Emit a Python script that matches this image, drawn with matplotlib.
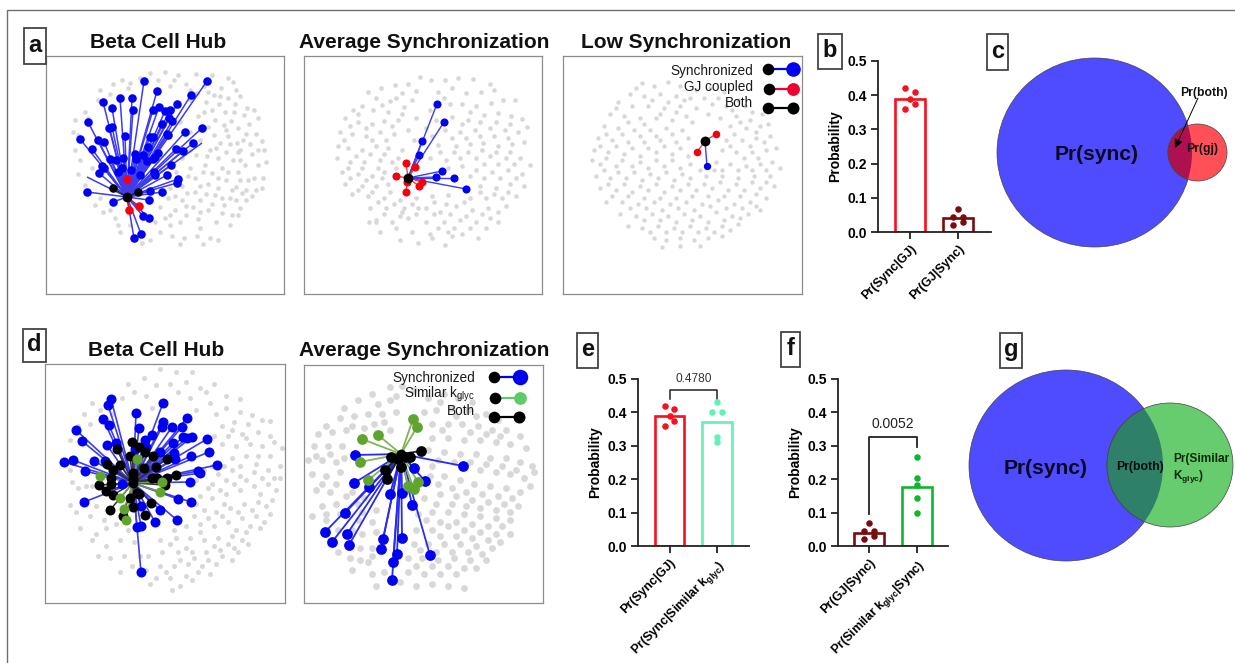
import matplotlib
matplotlib.use("Agg")
import matplotlib.pyplot as plt
from matplotlib.patches import Ellipse, Rectangle
from matplotlib.transforms import ScaledTranslation

plt.rcParams['font.family'] = ['Liberation Sans', 'DejaVu Sans']
plt.rcParams['mathtext.fontset'] = 'custom'
plt.rcParams['mathtext.rm'] = 'Liberation Sans'
plt.rcParams['mathtext.bf'] = 'Liberation Sans:bold'

W, H = 1235, 663
BLUE, RED, BLACK, GREEN = '#0000f5', '#f5000f', '#000000', '#5fa52d'

# ---------- network data (coordinates in reference pixels) ----------
# Background cells are hand-estimated samples of each grey cloud.
grey_a = [(150,73),(165,72),(178,75),(196,74),(212,75),(228,78),(233,82),(140,78),(122,80),(113,84),
 (186,84),(204,86),(221,88),(236,90),(128,88),(170,86),(214,95),(197,93),(228,98),(240,96),(110,94),(100,90),
 (206,102),(219,104),(235,104),(247,108),(254,110),(190,100),(225,112),(212,110),(244,115),(85,112),(98,100),
 (198,116),(215,120),(231,121),(249,124),(258,118),(238,128),(226,130),(208,127),(180,122),(75,120),(88,118),
 (214,135),(228,136),(246,134),(256,134),(262,141),(237,143),(220,143),(200,140),(190,132),(78,135),(73,132),
 (210,150),(226,152),(240,150),(252,154),(264,150),(196,155),(182,158),(233,160),(218,158),(75,150),
 (205,165),(190,168),(222,168),(245,165),(258,165),(266,162),(238,172),(80,160),(78,174),(212,173),
 (195,178),(182,186),(208,184),(226,180),(248,180),(263,178),(256,190),(236,187),(170,188),(85,185),(92,168),
 (195,192),(215,195),(230,198),(246,200),(252,196),(168,198),(182,200),(95,205),(100,198),(262,188),
 (160,207),(175,210),(193,207),(208,210),(224,205),(240,208),(110,210),(103,212),(238,215),
 (165,218),(180,222),(198,219),(216,222),(230,225),(115,218),(118,225),(200,228),(222,213),
 (160,232),(172,236),(184,238),(197,236),(210,238),(218,240),(150,240),(180,244),(203,244),(120,232),(130,225),(142,243),
 (204,112),(190,150),(176,172),(200,200),(186,215),(232,190),(243,140),(218,178),(170,225),(155,222),(240,160),
 (207,156),(216,148),(230,144),(203,172),(228,172),(200,186),(218,188),(242,193),(187,193),(175,196),(188,176),
 (206,194),(222,198),(236,200),(212,204),(200,212),(186,206),(170,215),(232,215),(246,190),(254,178),(240,180),
 (258,150),(250,144),(238,152),(224,125),(234,112),(220,96),(208,92),(190,90),(174,80),(158,80),(130,83)]

grey_b = [(420,77),(431,80),(445,80),(458,78),(473,79),(490,84),(395,85),(408,84),(381,88),(368,92),
 (402,93),(416,91),(438,92),(452,88),(466,93),(481,92),(494,90),(376,98),(390,101),(353,110),(362,106),
 (373,110),(388,112),(404,107),(430,110),(450,104),(462,104),(476,106),(491,103),(503,100),(515,100),(345,118),
 (358,122),(372,124),(384,121),(398,120),(416,118),(452,117),(468,120),(484,115),(498,113),(511,116),(522,119),
 (340,132),(352,134),(366,136),(380,132),(394,134),(408,130),(426,128),(445,130),(460,132),(475,130),(490,128),(505,130),(518,132),(527,127),
 (338,146),(348,148),(362,150),(376,146),(388,148),(402,150),(438,145),(456,146),(470,144),(483,143),(498,146),(512,144),(524,142),
 (337,158),(350,162),(364,162),(380,160),(392,162),(430,158),(446,160),(460,158),(476,158),(490,156),(506,158),(520,158),(530,165),
 (342,172),(358,174),(372,176),(384,172),(476,170),(492,172),(508,170),(522,174),(345,184),(362,186),(376,186),(388,184),
 (480,186),(496,188),(510,184),(524,186),(352,194),(368,196),(384,198),(400,200),(416,198),(432,196),(448,195),(470,198),(486,198),(502,198),(516,196),
 (370,208),(386,208),(402,212),(418,208),(434,202),(440,212),(456,206),(472,210),(488,208),(506,206),
 (376,220),(392,222),(408,218),(426,222),(444,222),(460,220),(476,222),(490,218),(380,232),(396,228),(412,232),(430,234),
 (448,232),(462,234),(486,228),(498,222),(369,222),(376,222),(400,240),(418,243),(432,238),(452,236),(478,238),(445,245),
 (382,105),(396,98),(412,100),(444,98),(470,112),(358,114),(350,126),(366,128),(392,126),(402,114),(436,120),(462,124),(480,122),(496,122),(510,124),
 (344,140),(372,140),(386,140),(414,140),(432,136),(452,138),(466,138),(480,136),(494,136),(508,138),(356,156),(370,154),(384,154),(398,158),
 (440,152),(454,152),(468,152),(482,150),(496,152),(510,152),(348,168),(362,168),(378,168),(396,168),(448,168),(462,166),(484,164),(498,164),(514,164),
 (350,178),(366,180),(382,178),(470,176),(484,178),(500,178),(516,178),(358,190),(372,192),(390,192),(404,208),(426,208),(446,204),(464,202),(480,192),(494,194),(508,192),
 (378,202),(394,204),(412,204),(450,214),(466,216),(482,214),(498,212),(384,214),(400,216),(416,214),(434,214),(438,228),(454,228),(470,228)]

grey_c = [(642,83),(654,86),(668,82),(680,86),(696,90),(710,88),(724,92),(630,94),(644,96),(660,94),(676,96),(690,98),(738,100),
 (618,102),(632,106),(648,106),(664,108),(680,106),(696,108),(712,104),(726,106),(745,106),(752,112),
 (610,114),(624,116),(640,118),(656,118),(672,120),(686,116),(720,118),(736,116),(750,120),(762,114),
 (604,126),(618,128),(634,130),(650,130),(666,128),(682,130),(730,126),(746,128),(760,126),(768,124),
 (598,138),(612,140),(628,142),(644,142),(660,140),(676,142),(726,140),(742,140),(756,138),(770,136),
 (594,150),(608,152),(624,154),(640,156),(656,152),(672,154),(688,156),(722,150),(736,152),(752,152),(766,150),(776,148),
 (592,160),(600,164),(616,166),(632,166),(648,168),(664,166),(680,168),(716,162),(730,164),(746,166),(760,164),(772,162),(780,168),
 (596,176),(610,178),(626,178),(642,180),(658,178),(674,180),(690,178),(706,176),(722,176),(738,178),(754,176),(770,176),
 (600,188),(616,190),(632,192),(648,190),(664,192),(680,190),(696,190),(712,188),(728,190),(744,190),(760,188),(774,186),
 (606,202),(622,202),(638,204),(654,202),(670,204),(686,202),(702,204),(718,200),(734,204),(750,202),(766,198),
 (620,214),(636,216),(652,214),(668,216),(684,214),(700,216),(716,212),(732,216),(748,214),(760,210),
 (628,226),(642,228),(658,226),(674,228),(690,226),(706,228),(722,226),(738,224),
 (654,238),(666,240),(680,238),(694,240),(708,238),(722,236),(662,247),(680,246),(700,246),
 (636,88),(652,100),(668,102),(684,100),(704,98),(718,98),(732,110),(616,108),(628,122),(644,124),(660,114),(676,112),(692,122),(708,114),(740,122),(756,132),
 (606,134),(622,134),(640,136),(656,136),(672,134),(688,138),(716,132),(734,134),(750,146),(764,142),(600,146),(616,146),(632,148),(648,148),(664,146),(680,148),(730,146),(744,158),(758,158),
 (606,158),(622,160),(640,162),(656,160),(672,160),(690,164),(722,170),(738,170),(752,170),(766,170),(604,170),(618,172),(634,172),(650,174),(666,172),(682,174),(700,170),(714,170),
 (608,184),(624,184),(640,186),(656,184),(672,186),(688,184),(704,184),(720,182),(736,184),(752,182),(766,182),(612,196),(628,196),(644,198),(660,198),(676,198),(692,196),(708,196),(724,196),(740,196),(756,194),
 (630,208),(646,208),(662,210),(678,208),(694,210),(710,206),(726,208),(742,208),(756,206),(644,220),(660,220),(676,222),(692,220),(708,222),(724,220),(740,218),(650,232),(666,232),(682,232),(698,232),(714,232),(730,230)]

grey_d = [(160,369),(176,372),(192,372),(144,378),(128,384),(156,385),(170,384),(186,382),(214,384),(206,392),(122,398),(146,396),
 (226,396),(240,399),(190,398),(210,403),(92,403),(100,410),(84,414),(112,414),(226,408),(240,412),(252,415),(216,414),
 (234,422),(248,424),(262,420),(270,421),(222,426),(78,426),(90,424),(258,432),(242,434),(228,436),(270,436),
 (250,444),(262,446),(274,442),(236,446),(222,444),(70,440),(258,456),(246,456),(232,458),(270,456),(282,448),
 (72,482),(78,488),(70,470),(76,462),(86,486),(92,486),(196,480),(212,484),(226,480),(240,476),(254,472),(268,470),(280,466),
 (200,496),(212,498),(226,494),(240,490),(254,486),(268,484),(280,478),(70,505),(76,512),(90,516),
 (204,510),(216,512),(230,508),(244,504),(258,502),(272,500),(80,528),(96,534),(104,520),(116,524),
 (186,526),(200,524),(214,526),(228,522),(242,518),(256,516),(270,514),(92,540),(106,546),(120,540),(134,542),
 (176,538),(190,538),(204,540),(218,538),(232,536),(246,532),(260,528),(110,558),(124,556),(148,556),(162,552),
 (178,552),(192,552),(206,552),(220,550),(234,548),(248,544),(132,566),(146,570),(160,566),(174,566),(188,564),(202,566),(216,564),(232,560),
 (120,572),(156,578),(170,578),(186,576),(198,572),(210,574),(180,586),(192,580),
 (200,388),(178,392),(152,408),(134,392),(196,410),(232,430),(214,436),(246,438),(256,464),(224,466),(240,466),(212,466),(204,470),
 (218,474),(232,470),(262,478),(274,478),(208,488),(220,490),(234,484),(246,480),(260,494),(276,490),(196,504),(224,504),(238,512),(252,510),(266,506),
 (194,516),(208,518),(222,516),(236,530),(250,526),(264,522),(186,548),(200,532),(214,546),(228,544),(242,540),(170,544),(160,540),(174,530),
 (98,556),(84,500),(96,506),(106,528),(128,530),(140,556),(180,560),(194,558),(208,560),(222,556),(238,552),(166,572),(150,584),(172,590)]

grey_e = [(390,387),(402,386),(414,390),(372,394),(358,400),(344,408),(378,404),(390,400),(428,398),(444,394),(458,398),(472,402),
 (340,418),(354,416),(368,414),(382,414),(396,412),(436,410),(452,408),(468,410),(486,414),(498,420),(326,426),(318,434),(332,432),
 (346,430),(390,430),(432,424),(448,424),(462,424),(478,426),(492,430),(506,430),(520,436),(314,446),(328,446),(342,446),
 (432,438),(448,438),(464,440),(480,440),(496,442),(510,444),(526,448),(308,460),(322,460),(336,462),(428,450),(444,452),(460,454),
 (476,454),(490,458),(506,458),(520,462),(532,466),(312,474),(326,476),(340,472),(432,466),(480,470),(496,472),(510,474),(524,478),(534,472),
 (316,490),(330,492),(346,496),(430,476),(444,476),(460,480),(474,484),(490,486),(506,488),(520,492),(530,486),
 (322,506),(336,504),(358,504),(376,510),(424,498),(440,494),(456,496),(472,500),(488,502),(504,504),(518,506),
 (358,520),(372,522),(418,514),(432,512),(448,512),(464,514),(480,516),(496,518),(510,520),(312,516),(326,520),
 (362,534),(376,532),(416,530),(432,530),(448,526),(464,530),(480,532),(496,534),(510,534),(360,548),(372,548),(414,544),(428,544),(444,544),
 (460,544),(476,546),(492,548),(338,552),(350,558),(368,562),(408,558),(422,558),(438,560),(454,558),(470,560),(486,560),
 (352,570),(372,574),(384,572),(408,572),(424,574),(440,574),(456,574),(400,582),(416,586),(432,584),(448,586),(376,586),(464,588),
 (396,396),(352,426),(364,428),(374,424),(384,422),(440,402),(424,412),(476,416),(456,416),(442,430),(470,432),(486,434),(500,436),
 (316,456),(330,454),(344,458),(438,460),(454,462),(470,462),(486,464),(502,466),(516,470),(322,484),(336,484),(438,484),(452,488),(466,492),(482,494),(498,496),(512,498),
 (352,492),(364,498),(436,504),(452,504),(466,506),(480,508),(496,510),(510,512),(340,514),(352,530),(362,512),(426,520),(440,522),(456,522),(472,524),(488,526),(502,526),
 (338,530),(326,514),(440,536),(456,536),(472,538),(488,540),(500,542),(372,556),(420,550),(436,552),(452,552),(468,552),(482,554),(360,560),(416,566),(432,566),(448,566),(464,568),(476,568)]

a_blue = [(144,81),(207,81),(157,91),(191,95),(103,102),(132,98),(120,98),(112,108),(133,110),(153,110),(159,107),(165,111),(170,110),(177,104),(88,122),(169,118),(172,121),(162,124),(109,128),(112,127),(202,128),(185,132),(167,134),(168,135),(80,139),(98,140),(104,142),(125,136),(150,137),(153,137),(193,143),(92,149),(148,147),(176,149),(183,151),(135,154),(158,153),(155,157),(143,155),(110,159),(116,160),(123,158),(136,159),(153,159),(147,161),(171,165),(102,166),(104,168),(122,168),(118,172),(131,170),(99,173),(154,172),(155,175),(167,175),(178,179),(177,183),(140,175),(87,192),(150,191),(162,192),(149,200),(113,202),(143,216),(149,218),(141,234),(134,238)]
a_bare = [(87,177),(202,143)]
a_black = [(113,188),(138,192)]
a_red = [(127,179),(139,206),(129,210)]
a_hub = (127,197)

b_blue = [(437,104),(444,122),(422,141),(419,155),(442,171),(436,177),(454,178),(466,189)]
b_red = [(406,163),(415,167),(396,176),(422,182),(419,186),(407,182),(406,192)]
b_hub = (408,178)

c_blue = [(707,166)]
c_red = [(716,134),(697,152)]
c_hub = (705,141)

d_blue = [(111,399),(108,405),(163,403),(136,413),(103,419),(109,425),(163,422),(162,427),(187,418),(172,427),(182,427),(139,428),(76,430),(152,435),(82,441),(145,440),(183,437),(187,438),(192,437),(207,439),(116,443),(173,443),(107,445),(135,449),(146,447),(160,452),(209,452),(174,453),(64,462),(73,460),(94,461),(105,461),(175,459),(191,456),(217,465),(85,471),(198,471),(200,473),(190,482),(178,499),(191,502),(84,502),(141,506),(160,510),(155,522),(177,520),(137,527),(141,526),(141,572),(122,484)]
d_black = [(132,442),(139,447),(117,449),(145,452),(130,456),(153,456),(107,464),(167,459),(120,465),(113,470),(144,468),(156,467),(133,473),(111,478),(152,478),(157,478),(167,478),(176,475),(133,479),(111,484),(99,485),(165,485),(106,491),(113,495),(137,493),(139,494),(130,498),(151,503),(133,507),(110,510),(145,515),(123,516)]
d_green = [(100,476),(137,459),(160,492),(120,498),(124,509),(126,520),(162,482)]
d_hub = (133,483)

e_blue = [(355,455),(463,466),(354,483),(369,487),(414,468),(425,481),(390,494),(402,493),(412,505),(345,513),(325,532),(347,534),(332,542),(349,545),(383,539),(402,538),(381,549),(397,554),(430,555),(393,562),(392,580)]
e_green = [(413,419),(417,427),(362,439),(378,435),(360,462),(368,480),(418,482),(414,489),(408,486)]
e_black = [(421,451),(391,457),(410,457),(401,467),(385,470),(387,479),(398,459),(405,457)]
e_hub = (401,454)

# ---------- bar data ----------
b_labels = ['Pr(Sync|GJ)', 'Pr(GJ|Sync)']
sync_gj_mean, gj_sync_mean = 0.39, 0.04
sim_sync_mean, sync_sim_mean = 0.178, 0.37
sync_gj_pts = [0.42, 0.41, 0.39, 0.375, 0.36]
gj_sync_pts = [0.068, 0.045, 0.045, 0.03, 0.02]
sync_sim_pts = [0.43, 0.40, 0.40, 0.325, 0.31]
sim_sync_pts = [0.266, 0.205, 0.183, 0.144, 0.10]
offs_std = [-0.1, 0.1, 0.0, 0.1, -0.1]
offs_gj = [0.0, -0.1, 0.1, 0.1, -0.1]
offs_sim = [0.0, -0.1, 0.1, 0.0, 0.0]
offs_col = [0.0, 0.0, 0.0, 0.0, 0.0]
yticks = [0.0, 0.1, 0.2, 0.3, 0.4, 0.5]

fig = plt.figure(figsize=(W/100, H/100), dpi=100)
fig.patch.set_facecolor('white')


def xy(pts):
    return [p[0] for p in pts], [p[1] for p in pts]


def panel(l, t, r, b):
    ax = fig.add_axes([l/W, 1-b/H, (r-l)/W, (b-t)/H])
    ax.set_xlim(l, r)
    ax.set_ylim(b, t)
    ax.set_xticks([])
    ax.set_yticks([])
    for s in ax.spines.values():
        s.set_color('#8c8c8c')
        s.set_linewidth(0.9)
    return ax


def network(ax, grey, hub, groups, gsize=11):
    gx, gy = xy(grey)
    ax.scatter(gx, gy, s=gsize, color='#d8d8d8', lw=0, zorder=1)
    for pts, col, ms, lc, lw in groups:
        for p in pts:
            ax.plot([hub[0], p[0]], [hub[1], p[1]], color=lc, lw=lw, zorder=2, solid_capstyle='butt')
    for pts, col, ms, lc, lw in groups:
        if col is not None:
            x, y = xy(pts)
            ax.scatter(x, y, s=ms, color=col, lw=0, zorder=3)
    ax.scatter([hub[0]], [hub[1]], s=50, color='k', lw=0, zorder=4)


def legend(ax, tx, rows, fs=9.8):
    for label, ty, x0, x1, my, col, big in rows:
        ax.text(tx, ty, label, ha='right', va='center', fontsize=fs, color='#1a1a1a', zorder=6)
        ax.plot([x0, x1], [my, my], color=col if col != 'k' else 'k', lw=1.6, zorder=5)
        ax.scatter([x0], [my], s=70, color='k', lw=0, zorder=6)
        ax.scatter([x1], [my], s=big, color=col, lw=0, zorder=6)


LB = '#3c3cf0'
a1 = panel(46, 56, 284, 294)
network(a1, grey_a, a_hub, [(a_blue, BLUE, 38, LB, 1.1), (a_bare, None, 0, LB, 1.1),
                            (a_black, 'k', 38, '#222222', 0.9), (a_red, RED, 38, '#e01030', 0.9)])
a2 = panel(304, 56, 542, 294)
network(a2, grey_b, b_hub, [(b_blue, BLUE, 34, LB, 1.0), (b_red, RED, 34, '#f04040', 1.0)])
a3 = panel(563, 56, 802, 294)
network(a3, grey_c, c_hub, [(c_blue, BLUE, 28, LB, 1.0), (c_red, RED, 30, '#f04040', 1.0)], gsize=10)
legend(a3, 753, [('Synchronized', 71, 768, 793, 69, BLUE, 110),
                 ('GJ coupled', 87, 769, 793, 89, '#f00030', 85),
                 ('Both', 103, 768, 793, 108, 'k', 75)])
d1 = panel(45, 364, 285, 603)
network(d1, grey_d, d_hub, [(d_blue, BLUE, 52, LB, 1.2), (d_black, 'k', 52, '#333333', 1.1),
                            (d_green, GREEN, 52, '#70a050', 1.0)], gsize=13)
e1 = panel(304, 365, 543, 603)
network(e1, grey_e, e_hub, [(e_blue, BLUE, 60, '#2a2af0', 1.3), (e_green, GREEN, 60, '#82b45a', 1.3),
                            (e_black, 'k', 60, '#222222', 1.3)], gsize=24)
legend(e1, 475, [('Synchronized', 378, 494, 520, 377, BLUE, 125),
                 ('Similar k$_{\\mathrm{glyc}}$', 394, 495, 520, 398, '#5ecb68', 85),
                 ('Both', 411, 494, 519, 417, 'k', 75)], fs=9.8)


def bars(l, r, c0, c1, top, bot, means, edge, pts, offs, labels, ptcols):
    ax = fig.add_axes([l/W, 1-bot/H, (r-l)/W, (bot-top)/H])
    u = c1 - c0
    ax.set_xlim((l-c0)/u, (r-c0)/u)
    ax.set_ylim(0, 0.5)
    ax.patch.set_alpha(0)
    w = 0.62
    for i in range(2):
        ax.bar(i, means[i], width=w, facecolor='white', edgecolor=edge[i], lw=1.9, zorder=2)
        ax.scatter([i+o for o in offs[i]], pts[i], s=22, color=ptcols[i], lw=0, zorder=3, clip_on=False)
    for s in ('top', 'right'):
        ax.spines[s].set_visible(False)
    for s in ('left', 'bottom'):
        ax.spines[s].set_linewidth(1.3)
        ax.spines[s].set_color('#222222')
    ax.set_yticks(yticks)
    ax.set_yticklabels([f'{v:.1f}' for v in yticks], fontsize=10, fontweight='bold')
    ax.set_xticks([0, 1])
    ax.set_xticklabels(labels, rotation=45, ha='right', rotation_mode='anchor', fontsize=9, fontweight='bold')
    shift = ScaledTranslation(-3.5/100, -3/100, fig.dpi_scale_trans)
    for lab in ax.get_xticklabels():
        lab.set_transform(lab.get_transform() + shift)
    ax.tick_params(axis='both', width=1.3, length=5, color='#222222', pad=3)
    ax.set_ylabel('Probability', fontsize=10, fontweight='bold', labelpad=4)
    return ax


RED_BAR, DARK, MINT, G2 = '#fa0f1e', '#7a0c10', '#66efb8', '#0cb82c'
bars(878, 991, 910, 958, 61, 232, [sync_gj_mean, gj_sync_mean], [RED_BAR, DARK],
     [sync_gj_pts, gj_sync_pts], [offs_std, offs_gj], b_labels, [RED_BAR, DARK])
ex = bars(638, 749, 669.5, 717, 379, 546, [sync_gj_mean, sync_sim_mean], [RED_BAR, MINT],
          [sync_gj_pts, sync_sim_pts], [offs_std, offs_sim],
          ['Pr(Sync|GJ)', 'Pr(Sync|Similar k$_{\\mathbf{glyc}}$)'], [RED_BAR, MINT])
ex.plot([0, 0, 1, 1], [0.44, 0.467, 0.467, 0.44], color='#222222', lw=1.1, clip_on=False)
ex.text(0.5, 0.5, '0.4780', ha='center', va='center', fontsize=8.6, color='#333333')
fx = bars(838, 948, 869, 917, 379, 546, [gj_sync_mean, sim_sync_mean], [DARK, G2],
          [gj_sync_pts, sim_sync_pts], [offs_gj, offs_col],
          ['Pr(GJ|Sync)', 'Pr(Similar k$_{\\mathbf{glyc}}$|Sync)'], [DARK, G2])
fx.plot([0, 0, 1, 1], [0.095, 0.327, 0.327, 0.295], color='#222222', lw=1.3, clip_on=False)
fx.text(0.5, 0.365, '0.0052', ha='center', va='center', fontsize=10, color='#222222')

# ---------- overlay: titles, panel labels, Venn diagrams, frame ----------
ov = fig.add_axes([0, 0, 1, 1], zorder=10)
ov.set_xlim(0, W)
ov.set_ylim(H, 0)
ov.axis('off')
ov.patch.set_alpha(0)

ov.plot([7, 7, W], [H, 10, 10], color='#707070', lw=1.0)

for t, x, y in [('Beta Cell Hub', 158, 43), ('Average Synchronization', 424, 43), ('Low Synchronization', 686, 43),
                ('Beta Cell Hub', 156, 350), ('Average Synchronization', 424, 350)]:
    ov.text(x, y, t, ha='center', va='center', fontsize=15, fontweight='bold', color='#111111')

for t, x0, y0, x1, y1 in [('a', 24, 28, 46, 64), ('b', 818, 34, 842, 69), ('c', 987, 34, 1008, 70),
                          ('d', 23, 329, 46, 362), ('e', 577, 333, 598, 368), ('f', 781, 332, 800, 367),
                          ('g', 1000, 333, 1022, 368)]:
    ov.add_patch(Rectangle((x0, y0), x1-x0, y1-y0, fc='white', ec='#444444', lw=1.3, zorder=8))
    ov.text((x0+x1)/2, (y0+y1)/2-1, t, ha='center', va='center', fontsize=17, fontweight='bold', color='#111111', zorder=9)


def venn(big, small, c_big, c_small, c_both):
    b = Ellipse(big[:2], big[2], big[3], fc=c_big, ec='#444444', lw=0.5, zorder=2)
    s = Ellipse(small[:2], small[2], small[3], fc=c_small, ec='#444444', lw=0.5, zorder=3)
    ov.add_patch(b)
    ov.add_patch(s)
    o = Ellipse(small[:2], small[2], small[3], fc=c_both, ec='#444444', lw=0.5, zorder=4)
    ov.add_patch(o)
    o.set_clip_path(b)


venn((1094.5, 152.5, 195, 189), (1197.5, 152.5, 59, 57), '#4f4bff', '#ff5058', '#ae1050')
ov.text(1097, 155, 'Pr(sync)', ha='center', va='center', fontsize=15.2, fontweight='bold', color='#0a0a20', zorder=6)
ov.text(1204, 93, 'Pr(both)', ha='center', va='center', fontsize=8.8, fontweight='bold', color='#111111', zorder=6)
ov.text(1202.5, 149, 'Pr(gj)', ha='center', va='center', fontsize=8.8, fontweight='bold', color='#111111', zorder=6)
ov.annotate('', xy=(1175, 148), xytext=(1198, 98), zorder=7,
            arrowprops=dict(arrowstyle='-|>', color='k', lw=0.7, mutation_scale=13, shrinkA=0, shrinkB=0))

venn((1066, 465.5, 194, 191), (1170, 465, 126, 124), '#4f4bff', '#66cc6e', '#2f8068')
ov.text(1046, 469, 'Pr(sync)', ha='center', va='center', fontsize=15.2, fontweight='bold', color='#0a0a20', zorder=6)
ov.text(1140, 467, 'Pr(both)', ha='center', va='center', fontsize=8.8, fontweight='bold', color='#0a0a0a', zorder=6)
ov.text(1173, 469, 'Pr(Similar\nK$_{\\mathbf{glyc}}$)', ha='left', va='center', fontsize=8.6, fontweight='bold', color='#0a2a0a', zorder=6)

fig.savefig('out.png', dpi=100)
